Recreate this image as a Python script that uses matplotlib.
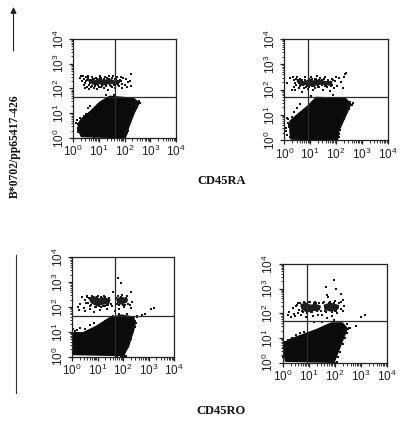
import numpy as np
import matplotlib
matplotlib.use('Agg')
import matplotlib.pyplot as plt
from matplotlib.patches import FancyArrowPatch
from matplotlib.ticker import LogLocator, NullFormatter

plt.rcParams['font.family'] = ['Liberation Sans', 'DejaVu Sans']
plt.rcParams['mathtext.default'] = 'regular'

# all values are log10 of the fluorescence
# ---------- TOP LEFT ----------
gate1 = (1.63, 1.66)
cloud1_x = [.34, 1.05, 2.01, 2.14, 2.34, 2.53, 2.34, 1.43, 1.05, .72, .34, .23, .27]
cloud1_y = [.09, .07, .04, .47, 1.01, 1.41, 1.57, 1.65, 1.41, 1.07, .74, .54, .27]
band1_x = [.62, .85, 1.02, 1.2, 1.42, 1.6, 1.8, 1.72, 1.45, 1.18, 1.0, .78]
band1_y = [2.34, 2.28, 2.36, 2.3, 2.35, 2.28, 2.3, 2.2, 2.24, 2.17, 2.24, 2.2]
stray1_x = [.27, .3, .35, .38, .42, .45, .5, .55, .6, .62, .7, .75, .8, .85, .9, .95, 1.0, 1.05, 1.1, 1.2, 1.25,
            1.3, 1.35, 1.4, 1.5, 1.55, 1.65, 1.7, 1.8, 1.85, 1.9, 1.95, 2.0, 2.05, 2.1, 2.2, 2.27, 2.26, 2.15,
            .18, .2, .15, .2, .12, 2.45, 2.6, 2.5, 2.38, 2.25, 2.2, 2.12, 2.3, 2.42, 2.1, 2.05, 2.0, 1.3, .8, 1.6,
            .44, .52, .58, .66, .71, .79, .87, .93, .98, 1.08, 1.14, 1.22, 1.28, 1.33, 1.44, 1.52, 1.58, 1.67, 1.76,
            1.83, 1.92, .48, .56, .64, .73, .83, .91, 1.03, 1.12, 1.27, 1.38, 1.47, 1.63, 1.74, 1.88,
            2.17, 2.2, 2.29, 2.33, 2.39, 2.44, 2.48, 2.55, .2, .24, .29, .31, .44, .5, .58, .66]
stray1_y = [2.43, 2.52, 2.3, 2.5, 2.15, 2.02, 2.48, 2.08, 2.5, 1.97, 2.08, 2.46, 2.0, 2.12, 2.42, 1.98, 2.06, 2.5,
            2.05, 2.02, 2.47, 2.1, 1.95, 2.52, 2.08, 2.5, 2.0, 2.46, 2.1, 2.48, 2.02, 2.44, 2.15, 2.4, 2.06, 2.3,
            2.6, 2.12, 2.25, .55, .4, .72, .25, .6, 1.2, 1.42, 1.3, 1.05, .8, .6, .3, 1.3, 1.48, .2, .12, .3, 1.72,
            .02, 1.75,
            2.38, 2.3, 2.42, 2.24, 2.36, 2.4, 2.18, 2.38, 2.14, 2.41, 2.15, 2.4, 2.2, 2.42, 2.16, 2.41, 2.15, 2.38,
            2.17, 2.36, 2.18, 2.22, 2.36, 2.15, 2.12, 2.38, 2.2, 2.42, 2.11, 2.15, 2.4, 2.12, 2.38, 2.14, 2.32,
            .52, .72, .86, 1.08, 1.16, 1.32, 1.24, 1.5, .32, .62, .82, .15, .88, .98, 1.22, 1.28]

# ---------- TOP RIGHT ----------
gate2 = (.93, 1.71)
cloud2_x = [.28, 2.03, 2.09, 2.35, 2.54, 2.35, 1.25, .93, .54, .25, .25]
cloud2_y = [.08, .04, .41, 1.0, 1.43, 1.62, 1.66, 1.33, 1.0, .74, .34]
band2_x = [.52, .78, .95, 1.12, 1.36, 1.6, 1.82, 1.78, 1.44, 1.14, .92, .64]
band2_y = [2.34, 2.28, 2.36, 2.32, 2.36, 2.29, 2.3, 2.2, 2.25, 2.19, 2.24, 2.2]
stray2_x = [.1, .22, .28, .33, .38, .42, .5, .55, .6, .68, .75, .82, .9, .96, 1.02, 1.1, 1.2, 1.25, 1.32, 1.4, 1.5,
            1.58, 1.65, 1.75, 1.85, 1.92, 2.0, 2.05, 2.12, 2.2, 2.28, 2.3, 2.4, 2.35, .1, .14, .05, .12, .18, .08,
            2.6, 2.5, 2.42, 2.3, 2.2, 2.15, 2.65, 2.12, 2.25, 2.05, 2.1, 2.45, .9, 1.2, 1.7, .6, 1.05, 1.9, 2.2,
            .36, .44, .47, .53, .59, .66, .72, .8, .86, .94, 1.0, 1.06, 1.14, 1.22, 1.3, 1.36, 1.46, 1.53, 1.62,
            1.7, 1.8, 1.88, .4, .57, .7, .84, .98, 1.08, 1.18, 1.34, 1.44, 1.56, 1.68, 1.84, 1.96,
            2.14, 2.2, 2.26, 2.38, 2.44, 2.5, 2.56, .16, .2, .3, .36, .48, .62, .72, .22]
stray2_y = [2.26, 2.45, 2.0, 2.48, 2.1, 1.98, 2.5, 2.06, 2.44, 1.92, 2.08, 2.48, 2.02, 2.1, 2.5, 1.98, 2.06, 2.52,
            2.1, 2.46, 2.0, 2.5, 2.1, 1.95, 2.44, 2.06, 2.48, 2.15, 2.45, 2.3, 2.05, 2.5, 2.65, 2.6, .9, .7, .35,
            .2, .6, .5, 1.4, 1.25, 1.1, .85, .6, .4, 1.48, .25, .7, .1, .15, 1.3, .02, .04, .05, .03, 1.75, 1.78,
            1.68,
            2.38, 2.42, 2.2, 2.38, 2.14, 2.4, 2.18, 2.38, 2.16, 2.42, 2.18, 2.42, 2.16, 2.44, 2.15, 2.4, 2.17, 2.42,
            2.16, 2.38, 2.16, 2.38, 2.28, 2.28, 2.4, 2.12, 2.38, 2.14, 2.42, 2.12, 2.4, 2.14, 2.38, 2.18, 2.36,
            .56, .7, .9, 1.12, 1.24, 1.36, 1.5, .84, .52, .92, 1.12, 1.28, 1.42, .98, .12]

# ---------- BOTTOM LEFT ----------
gate3 = (1.67, 1.64)
cloud3_x = [.08, .08, 2.0, 2.19, 2.43, 2.39, 1.94, 1.48, .96, .44]
cloud3_y = [.93, .12, .08, .46, 1.26, 1.56, 1.64, 1.53, 1.19, .93]
band3a_x = [.7, .9, 1.08, 1.26, 1.46, 1.42, 1.2, .98, .78]
band3a_y = [2.34, 2.38, 2.3, 2.34, 2.28, 2.16, 2.14, 2.08, 2.18]
band3b_x = [1.78, 1.96, 2.14, 2.12, 1.92, 1.8]
band3b_y = [2.33, 2.36, 2.3, 2.22, 2.14, 2.2]
stray3_x = [.22, .28, .33, .4, .45, .5, .56, .6, .7, .78, .85, .92, 1.0, 1.08, 1.15, 1.25, 1.35, 1.42, 1.58, 1.62,
            1.7, 1.78, 1.85, 1.95, 2.05, 2.15, 2.25, 2.3, 2.35, 2.32, 1.8, 1.9, 2.15, 2.85, 3.1, 3.2, 2.72, 2.55,
            .04, .05, .03, 2.45, 2.5, 2.38, 2.3, 2.2, 2.12, 2.05, 2.55, 2.1, 2.0, 1.9, 1.6, 1.3, 1.75, 1.85,
            .52, .62, .66, .74, .82, .88, .96, 1.04, 1.12, 1.2, 1.3, 1.38, 1.46, 1.52, 1.72, 1.82, 1.9, 2.0, 2.1,
            2.18, .58, .72, .84, 1.02, 1.16, 1.28, 1.44, 1.74, 1.94, 2.06,
            2.2, 2.26, 2.34, 2.4, 2.46, .1, .2, .3, .5, .7, .86, .04, .12]
stray3_y = [2.0, 1.88, 2.12, 2.4, 1.95, 1.85, 2.18, 2.46, 1.92, 2.44, 1.8, 2.0, 2.46, 1.88, 2.02, 2.46, 1.92, 2.08,
            2.05, 2.6, 1.82, 2.44, 1.92, 2.48, 1.98, 2.44, 2.1, 2.62, 2.22, 1.95, 3.15, 2.95, 1.72, 1.72, 1.9, 1.95,
            1.66, 1.6, .7, .45, .25, 1.2, 1.35, 1.0, .7, .4, .25, .04, 1.62, .02, .03, .02, 1.62, 1.45, .0, 1.72,
            2.3, 2.18, 2.38, 2.1, 2.42, 2.02, 2.4, 2.04, 2.42, 2.06, 2.4, 2.08, 2.38, 2.12, 2.38, 2.1, 2.4, 2.08,
            2.38, 2.14, 2.42, 2.04, 2.4, 2.1, 2.38, 2.06, 2.36, 2.12, 2.38, 2.1,
            .62, .84, 1.0, 1.18, 1.44, 1.02, 1.06, 1.14, 1.1, 1.26, 1.36, 1.1, 1.0]

# ---------- BOTTOM RIGHT ----------
gate4 = (.94, 1.70)
cloud4_x = [.05, .13, 1.95, 2.14, 2.44, 2.27, 1.88, 1.31, .79, .28]
cloud4_y = [.77, .09, .05, .57, 1.38, 1.58, 1.58, 1.31, 1.11, .91]
band4a_x = [.72, .9, 1.06, 1.24, 1.42, 1.38, 1.14, .92, .76]
band4a_y = [2.34, 2.38, 2.3, 2.34, 2.28, 2.16, 2.14, 2.08, 2.2]
band4b_x = [1.62, 1.84, 2.12, 2.1, 1.84, 1.64]
band4b_y = [2.32, 2.38, 2.3, 2.2, 2.12, 2.18]
stray4_x = [.2, .25, .3, .38, .42, .48, .52, .58, .7, .8, .88, .95, 1.05, 1.15, 1.25, 1.35, 1.5, 1.58, 1.7, 1.8,
            1.9, 2.0, 2.1, 2.22, 2.3, 2.35, 2.25, 2.32, 1.75, 1.95, 2.05, 3.0, 3.15, 2.8, 2.55, 2.45, 1.65, 1.7,
            .02, .04, .03, 2.5, 2.46, 2.38, 2.3, 2.2, 2.12, 2.6, 2.02, 1.98, 2.08, 1.95, 1.2, 1.5,
            .56, .62, .66, .74, .84, .92, 1.0, 1.1, 1.2, 1.3, 1.4, 1.46, 1.54, 1.62, 1.76, 1.88, 1.96, 2.06, 2.16,
            2.24, .6, .78, .96, 1.12, 1.28, 1.66, 1.82, 2.02,
            2.18, 2.26, 2.34, 2.42, .1, .22, .34, .5, .66, .8, .04, .14]
stray4_y = [1.95, 2.05, 1.85, 2.2, 1.98, 1.9, 2.3, 2.0, 1.92, 2.46, 1.86, 2.0, 2.48, 1.9, 2.46, 1.95, 1.92, 2.45,
            1.82, 2.48, 1.9, 2.5, 2.0, 2.45, 2.08, 2.3, 2.8, 2.55, 2.65, 3.35, 3.0, 1.85, 1.92, 1.5, 1.42, 1.55,
            3.05, 2.75, .6, .4, .25, 1.35, 1.2, 1.0, .75, .45, .25, 1.4, .0, .02, .03, 1.75, 1.65, 1.66,
            2.32, 2.14, 2.4, 2.08, 2.42, 2.04, 2.44, 2.06, 2.42, 2.08, 2.4, 2.1, 2.4, 2.08, 2.42, 2.06, 2.42, 2.08,
            2.4, 2.16, 2.42, 2.04, 2.44, 2.06, 2.42, 2.06, 2.42, 2.1,
            .74, .96, 1.14, 1.34, .82, .94, 1.02, 1.12, 1.2, 1.24, .45, .62]

clouds = [(cloud1_x, cloud1_y), (cloud2_x, cloud2_y), (cloud3_x, cloud3_y), (cloud4_x, cloud4_y)]
bands = [[(band1_x, band1_y)], [(band2_x, band2_y)],
         [(band3a_x, band3a_y), (band3b_x, band3b_y)],
         [(band4a_x, band4a_y), (band4b_x, band4b_y)]]
strays = [(stray1_x, stray1_y), (stray2_x, stray2_y), (stray3_x, stray3_y), (stray4_x, stray4_y)]
gates = [gate1, gate2, gate3, gate4]
panel_titles = ['CD45RA', 'CD45RO']
y_title = 'B*0702/pp65417-426'

# left, top, right, bottom of each panel in pixels
boxes = [(73, 39, 176, 138), (284.3, 39, 387.7, 140.3), (72, 257.3, 174.3, 356.7), (282.7, 264, 387, 362.7)]

fig = plt.figure(figsize=(4.0, 4.23), dpi=100)
W, H = 400, 423
DARK = '#151515'

for i in range(4):
    l, t, r, b = boxes[i]
    ax = fig.add_axes([l / W, 1 - b / H, (r - l) / W, (b - t) / H])
    ax.set_xscale('log')
    ax.set_yscale('log')
    ax.set_xlim(1, 1e4)
    ax.set_ylim(1, 1e4)

    # thick edge fattens the outlines to the width of the dense cell clouds
    cx, cy = clouds[i]
    ax.fill(10 ** np.array(cx), 10 ** np.array(cy), color='#0b0b0b', lw=2.2, joinstyle='round')
    for bx, by in bands[i]:
        ax.fill(10 ** np.array(bx), 10 ** np.array(by), color='#1e1e1e', lw=1.8, joinstyle='round')
    sx, sy = strays[i]
    # below about 0.55 the 1 px squares snap away to nothing
    ax.scatter(10 ** np.array(sx), 10 ** np.array(sy), s=0.62, marker='s', color=DARK, linewidths=0, clip_on=False)

    ax.axvline(10 ** gates[i][0], color='#2a2a2a', lw=0.9)
    ax.axhline(10 ** gates[i][1], color='#2a2a2a', lw=0.9)

    for side in ax.spines.values():
        side.set_linewidth(0.9)
        side.set_color('#222222')
    ax.tick_params(which='major', length=3, width=0.9, pad=1.5, labelsize=8.5, color='#222222', labelcolor='#222222')
    ax.tick_params(which='minor', length=1.8, width=0.7, color='#333333')
    ax.set_xticks([1, 10, 100, 1000, 10000])
    ax.set_yticks([1, 10, 100, 1000, 10000])
    ax.set_xticklabels(['$10^{%d}$' % k for k in range(5)])
    ax.set_yticklabels(['$10^{%d}$' % k for k in range(5)], rotation=90, va='center')
    ax.xaxis.set_minor_locator(LogLocator(base=10, subs=range(2, 10), numticks=10))
    ax.yaxis.set_minor_locator(LogLocator(base=10, subs=range(2, 10), numticks=10))
    ax.xaxis.set_minor_formatter(NullFormatter())
    ax.yaxis.set_minor_formatter(NullFormatter())

fig.text(222 / W, 1 - 181 / H, panel_titles[0], family='Liberation Serif', weight='bold', fontsize=9,
         ha='center', va='center', color='#111111')
fig.text(221 / W, 1 - 411 / H, panel_titles[1], family='Liberation Serif', weight='bold', fontsize=9,
         ha='center', va='center', color='#111111')
fig.text(15 / W, 1 - 146 / H, y_title, family='Liberation Serif', weight='bold', fontsize=8.4, rotation=90,
         ha='center', va='center', color='#111111')

# arrow and plain rule beside the panels
fig.add_artist(FancyArrowPatch((13.5 / W, 1 - 51 / H), (13.5 / W, 1 - 7 / H), transform=fig.transFigure,
                               arrowstyle='-|>', mutation_scale=9, lw=0.8, color='#222222', shrinkA=0, shrinkB=0))
fig.add_artist(plt.Line2D([16.3 / W, 16.3 / W], [1 - 255 / H, 1 - 393 / H], transform=fig.transFigure,
                          lw=0.8, color='#333333'))

fig.savefig('out.png', dpi=100)
